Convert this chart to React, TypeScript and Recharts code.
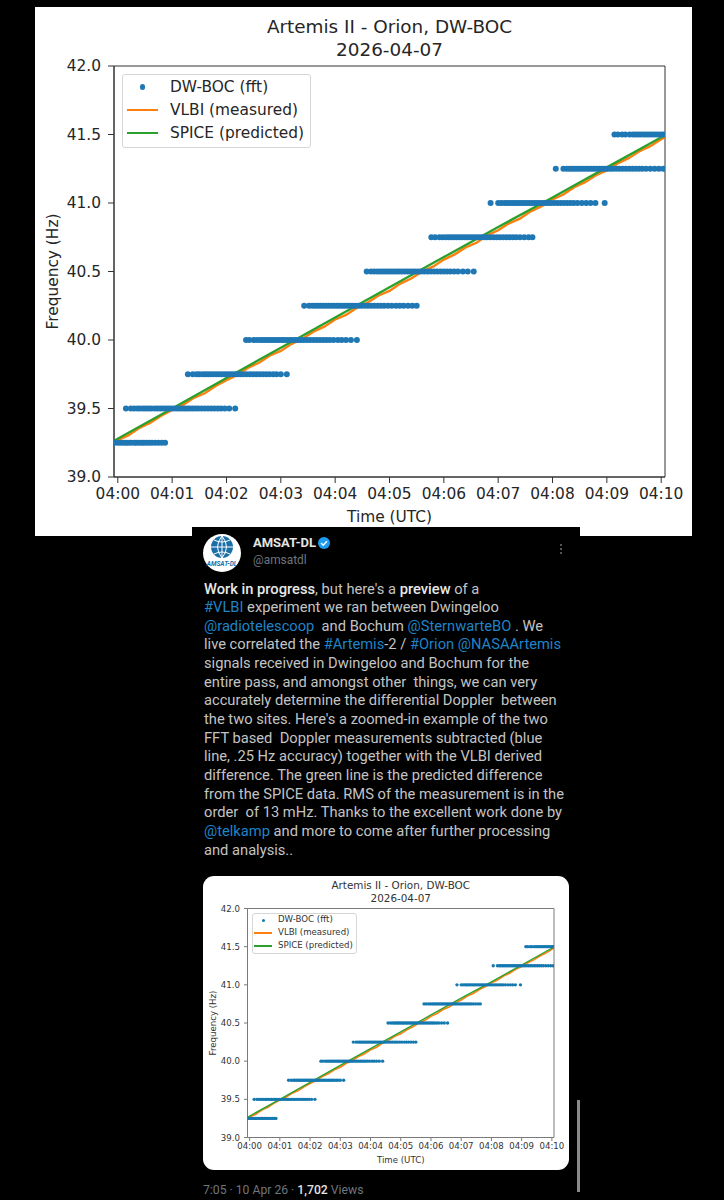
import {
  ComposedChart,
  Line,
  ReferenceArea,
  Scatter,
  XAxis,
  YAxis,
} from "recharts";

const tickLabels = ["04:00", "04:01", "04:02", "04:03", "04:04", "04:05", "04:06", "04:07", "04:08", "04:09", "04:10"];
const xTicks = [0, 1, 2, 3, 4, 5, 6, 7, 8, 9, 10];
const yTicks = [39, 39.5, 40, 40.5, 41, 41.5, 42];
const xMin = -0.07;
const xMax = 10.07;

// FFT measurements, quantised to .25 Hz: minutes after 04:00 for each level
const fftLevels = [39.25, 39.5, 39.75, 40, 40.25, 40.5, 40.75, 41, 41.25, 41.5];
const fftTimes = [
  [-0.06, 0, 0.05, 0.1, 0.15, 0.19, 0.24, 0.3, 0.34, 0.39, 0.44, 0.48, 0.53, 0.58, 0.63, 0.69, 0.75, 0.81, 0.87],
  [0.15, 0.24, 0.3, 0.36, 0.41, 0.47, 0.52, 0.57, 0.62, 0.68, 0.73, 0.78, 0.83, 0.88, 0.93, 0.98, 1.03, 1.08, 1.13, 1.18, 1.23, 1.28, 1.33, 1.38, 1.43, 1.48, 1.54, 1.6, 1.66, 1.72, 1.78, 1.84, 1.9, 1.97, 2.05, 2.16],
  [1.29, 1.38, 1.45, 1.5, 1.56, 1.61, 1.66, 1.71, 1.76, 1.81, 1.86, 1.91, 1.96, 2.01, 2.06, 2.11, 2.16, 2.21, 2.26, 2.31, 2.37, 2.43, 2.49, 2.55, 2.61, 2.67, 2.73, 2.79, 2.86, 2.92, 3.0, 3.11],
  [2.36, 2.42, 2.5, 2.56, 2.62, 2.67, 2.72, 2.77, 2.82, 2.87, 2.92, 2.97, 3.02, 3.07, 3.12, 3.17, 3.22, 3.27, 3.32, 3.37, 3.42, 3.48, 3.54, 3.6, 3.66, 3.72, 3.78, 3.84, 3.9, 3.97, 4.05, 4.12, 4.2, 4.29, 4.4],
  [3.43, 3.52, 3.58, 3.63, 3.68, 3.73, 3.78, 3.83, 3.88, 3.93, 3.98, 4.03, 4.08, 4.13, 4.18, 4.23, 4.28, 4.33, 4.38, 4.43, 4.48, 4.54, 4.6, 4.66, 4.72, 4.78, 4.84, 4.9, 4.97, 5.04, 5.12, 5.19, 5.26, 5.34, 5.42, 5.5],
  [4.58, 4.66, 4.72, 4.78, 4.83, 4.88, 4.93, 4.98, 5.03, 5.08, 5.13, 5.18, 5.23, 5.28, 5.33, 5.38, 5.43, 5.48, 5.53, 5.58, 5.64, 5.7, 5.76, 5.82, 5.88, 5.94, 6.0, 6.06, 6.12, 6.19, 6.26, 6.35, 6.44, 6.55],
  [5.77, 5.84, 5.92, 5.98, 6.04, 6.09, 6.14, 6.19, 6.24, 6.29, 6.34, 6.39, 6.44, 6.49, 6.54, 6.59, 6.64, 6.69, 6.74, 6.79, 6.85, 6.91, 6.97, 7.03, 7.09, 7.15, 7.21, 7.27, 7.33, 7.4, 7.48, 7.56, 7.63],
  [6.86, 7.0, 7.06, 7.12, 7.17, 7.22, 7.27, 7.32, 7.37, 7.42, 7.47, 7.52, 7.57, 7.62, 7.67, 7.72, 7.77, 7.82, 7.87, 7.92, 7.97, 8.03, 8.09, 8.15, 8.21, 8.27, 8.33, 8.39, 8.46, 8.54, 8.62, 8.7, 8.79, 8.96],
  [8.06, 8.2, 8.26, 8.31, 8.36, 8.41, 8.46, 8.51, 8.56, 8.61, 8.66, 8.71, 8.76, 8.81, 8.86, 8.91, 8.96, 9.01, 9.06, 9.11, 9.17, 9.23, 9.29, 9.35, 9.41, 9.47, 9.53, 9.59, 9.65, 9.72, 9.8, 9.88, 9.96, 10.04],
  [9.14, 9.2, 9.28, 9.34, 9.42, 9.48, 9.53, 9.58, 9.63, 9.68, 9.73, 9.78, 9.83, 9.88, 9.93, 9.98, 10.03, 10.07],
];

const vlbiTimes = [
  -0.07, 0, 0.2, 0.4, 0.6, 0.8, 1, 1.2, 1.4, 1.6, 1.8, 2, 2.2, 2.4, 2.6, 2.8, 3, 3.2, 3.4, 3.6, 3.8, 4, 4.2, 4.4,
  4.6, 4.8, 5, 5.2, 5.4, 5.6, 5.8, 6, 6.2, 6.4, 6.6, 6.8, 7, 7.2, 7.4, 7.6, 7.8, 8, 8.2, 8.4, 8.6, 8.8, 9, 9.2,
  9.4, 9.6, 9.8, 10, 10.07,
];
const vlbiValues = [
  39.252, 39.269, 39.305, 39.359, 39.396, 39.447, 39.49, 39.526, 39.578, 39.611, 39.665, 39.707, 39.745, 39.798,
  39.834, 39.887, 39.92, 39.972, 40.009, 40.061, 40.097, 40.15, 40.183, 40.236, 40.274, 40.325, 40.358, 40.412,
  40.449, 40.5, 40.535, 40.587, 40.625, 40.676, 40.71, 40.764, 40.801, 40.852, 40.886, 40.939, 40.977, 41.027,
  41.062, 41.115, 41.152, 41.203, 41.238, 41.289, 41.327, 41.378, 41.415, 41.465, 41.481,
];

const spiceTimes = [-0.07, 1, 2, 3, 4, 5, 6, 7, 8, 9, 10.07];
const spiceValues = [39.265, 39.5, 39.722, 39.944, 40.165, 40.385, 40.605, 40.825, 41.04, 41.26, 41.495];

const fftRows = fftLevels.flatMap((f, i) => fftTimes[i].map((t) => ({ t, f })));
const vlbiRows = vlbiTimes.map((t, i) => ({ t, f: vlbiValues[i] }));
const spiceRows = spiceTimes.map((t, i) => ({ t, f: spiceValues[i] }));

const legendEntries = ["DW-BOC (fft)", "VLBI (measured)", "SPICE (predicted)"];

const tweetLines: [string, string][][] = [
  [["Work in progress", "b"], [", but here's a ", "n"], ["preview", "b"], [" of a", "n"]],
  [["#VLBI", "l"], [" experiment we ran between Dwingeloo", "n"]],
  [["@radiotelescoop", "l"], ["  and Bochum ", "n"], ["@SternwarteBO", "l"], [" . We", "n"]],
  [["live correlated the ", "n"], ["#Artemis", "l"], ["-2 / ", "n"], ["#Orion", "l"], [" ", "n"], ["@NASAArtemis", "l"]],
  [["signals received in Dwingeloo and Bochum for the", "n"]],
  [["entire pass, and amongst other  things, we can very", "n"]],
  [["accurately determine the differential Doppler  between", "n"]],
  [["the two sites. Here's a zoomed-in example of the two", "n"]],
  [["FFT based  Doppler measurements subtracted (blue", "n"]],
  [["line, .25 Hz accuracy) together with the VLBI derived", "n"]],
  [["difference. The green line is the predicted difference", "n"]],
  [["from the SPICE data. RMS of the measurement is in the", "n"]],
  [["order  of 13 mHz. Thanks to the excellent work done by", "n"]],
  [["@telkamp", "l"], [" and more to come after further processing", "n"]],
  [["and analysis..", "n"]],
];

const FONT = "'DejaVu Sans', sans-serif";
const TWEET_FONT = "Roboto, sans-serif";
const segmentColor: Record<string, string> = { n: "#c4c4c4", b: "#e8e8e8", l: "#1f84c8" };

type PanelProps = {
  left: number;
  top: number;
  width: number;
  height: number;
  radius: number;
  plot: { left: number; top: number; right: number; bottom: number };
  fontSize: number;
  titleSize: number;
  titleY: [number, number];
  tickSize: number;
  tickMargin: number;
  textColor: string;
  spine: string;
  dotColor: string;
  dotR: number;
  lineWidth: number;
  orangeWidth: number;
  xLabelOffset: number;
  yLabelOffset: number;
  legend: {
    left: number;
    top: number;
    width: number;
    height: number;
    rows: number[];
    lineLeft: number;
    lineWidth: number;
    lineThick: number;
    textLeft: number;
    dotR: number;
  };
};

function Panel(p: PanelProps) {
  const cx = (p.plot.left + p.plot.right) / 2;
  const Dot = (d: any) => <circle cx={d.cx} cy={d.cy} r={p.dotR} fill={p.dotColor} />;
  return (
    <div
      style={{
        position: "absolute",
        left: p.left,
        top: p.top,
        width: p.width,
        height: p.height,
        background: "#ffffff",
        borderRadius: p.radius,
      }}
    >
      <ComposedChart
        width={p.width}
        height={p.height}
        margin={{
          top: p.plot.top - p.top,
          right: p.left + p.width - p.plot.right,
          bottom: 0,
          left: 0,
        }}
      >
        <XAxis
          dataKey="t"
          type="number"
          domain={[xMin, xMax]}
          allowDataOverflow
          ticks={xTicks}
          interval={0}
          tickFormatter={(v: number) => tickLabels[xTicks.indexOf(v)]}
          height={p.top + p.height - p.plot.bottom}
          tickSize={p.tickSize}
          tickMargin={p.tickMargin - 2}
          tick={{ fontSize: p.fontSize, fontFamily: FONT, fill: p.textColor }}
          stroke={p.spine}
          label={{
            value: "Time (UTC)",
            position: "insideBottom",
            offset: p.xLabelOffset,
            fontSize: p.fontSize,
            fontFamily: FONT,
            fill: p.textColor,
          }}
        />
        <YAxis
          dataKey="f"
          type="number"
          domain={[39, 42]}
          allowDataOverflow
          ticks={yTicks}
          interval={0}
          tickFormatter={(v: number) => v.toFixed(1)}
          width={p.plot.left - p.left}
          tickSize={p.tickSize}
          tickMargin={p.tickMargin}
          tick={{ fontSize: p.fontSize, fontFamily: FONT, fill: p.textColor }}
          stroke={p.spine}
          label={{
            value: "Frequency (Hz)",
            angle: -90,
            position: "insideLeft",
            offset: p.yLabelOffset,
            style: { textAnchor: "middle" },
            fontSize: p.fontSize,
            fontFamily: FONT,
            fill: p.textColor,
          }}
        />
        <Scatter data={fftRows} dataKey="f" shape={Dot} isAnimationActive={false} />
        <Line
          data={vlbiRows}
          dataKey="f"
          stroke="#ff7f0e"
          strokeWidth={p.orangeWidth}
          dot={false}
          isAnimationActive={false}
        />
        <Line
          data={spiceRows}
          dataKey="f"
          stroke="#2ca02c"
          strokeWidth={p.lineWidth}
          dot={false}
          isAnimationActive={false}
        />
        <ReferenceArea x1={xMin} x2={xMax} y1={39} y2={42} fill="none" stroke={p.spine} strokeOpacity={1} />
      </ComposedChart>

      {["Artemis II - Orion, DW-BOC", "2026-04-07"].map((line, i) => (
        <div
          key={line}
          style={{
            position: "absolute",
            left: 0,
            width: cx * 2 - p.left * 2,
            top: p.titleY[i] - p.top - p.titleSize * 0.65,
            lineHeight: `${p.titleSize * 1.3}px`,
            textAlign: "center",
            fontFamily: FONT,
            fontSize: p.titleSize,
            color: p.textColor,
          }}
        >
          {line}
        </div>
      ))}

      <div
        style={{
          position: "absolute",
          left: p.legend.left - p.left,
          top: p.legend.top - p.top,
          width: p.legend.width,
          height: p.legend.height,
          boxSizing: "border-box",
          border: "1px solid #d6d6d6",
          borderRadius: 3,
          background: "rgba(255,255,255,0.8)",
        }}
      />
      {legendEntries.map((name, i) => (
        <div key={name}>
          {i === 0 ? (
            <div
              style={{
                position: "absolute",
                left: p.legend.lineLeft + p.legend.lineWidth / 2 - p.legend.dotR - p.left,
                top: p.legend.rows[i] - p.legend.dotR - p.top,
                width: p.legend.dotR * 2,
                height: p.legend.dotR * 2,
                borderRadius: "50%",
                background: p.dotColor,
              }}
            />
          ) : (
            <div
              style={{
                position: "absolute",
                left: p.legend.lineLeft - p.left,
                top: p.legend.rows[i] - p.legend.lineThick / 2 - p.top,
                width: p.legend.lineWidth,
                height: p.legend.lineThick,
                background: i === 1 ? "#ff7f0e" : "#2ca02c",
              }}
            />
          )}
          <div
            style={{
              position: "absolute",
              left: p.legend.textLeft - p.left,
              top: p.legend.rows[i] - p.fontSize * 0.65 - p.top,
              lineHeight: `${p.fontSize * 1.3}px`,
              whiteSpace: "nowrap",
              fontFamily: FONT,
              fontSize: p.fontSize,
              color: p.textColor,
            }}
          >
            {name}
          </div>
        </div>
      ))}
    </div>
  );
}

function Tweet() {
  return (
    <div style={{ position: "absolute", left: 192, top: 527, width: 388, height: 673, background: "#000000" }}>
      <svg width={388} height={60} style={{ position: "absolute", left: 0, top: 0 }}>
        <circle cx={30} cy={26} r={19} fill="#ffffff" />
        <circle cx={30} cy={20} r={11} fill="#1a6fa8" />
        <path d="M19 20h22M30 9v22M22 13q8 4 16 0M22 27q8 -4 16 0M30 9q-9 11 0 22M30 9q9 11 0 22" stroke="#ffffff" strokeWidth={1} fill="none" />
        <text x={30} y={39} textAnchor="middle" fontSize={6.5} fontWeight={700} fontStyle="italic" fill="#1a6fa8" fontFamily={TWEET_FONT}>
          AMSAT-DL
        </text>
        <circle cx={132} cy={16} r={6} fill="#1d9bf0" />
        <path d="M129 16l2.2 2.2 3.8-4" stroke="#ffffff" strokeWidth={1.4} fill="none" />
        <circle cx={369} cy={18} r={1} fill="#6f6f6f" />
        <circle cx={369} cy={22} r={1} fill="#6f6f6f" />
        <circle cx={369} cy={26} r={1} fill="#6f6f6f" />
      </svg>
      <div style={{ position: "absolute", left: 61, top: 8, fontFamily: TWEET_FONT, fontSize: 13, fontWeight: 700, color: "#e4e4e4", lineHeight: "16px" }}>
        AMSAT-DL
      </div>
      <div style={{ position: "absolute", left: 61, top: 25, fontFamily: TWEET_FONT, fontSize: 11.9, color: "#6e767d", lineHeight: "16px" }}>
        @amsatdl
      </div>
      {tweetLines.map((segments, i) => (
        <div
          key={i}
          style={{
            position: "absolute",
            left: 12,
            top: 51.5 + i * 18.65,
            lineHeight: "20px",
            whiteSpace: "pre",
            fontFamily: TWEET_FONT,
            fontSize: 14.7,
          }}
        >
          {segments.map(([text, kind], j) => (
            <span key={j} style={{ color: segmentColor[kind], fontWeight: kind === "b" ? 500 : 400 }}>
              {text}
            </span>
          ))}
        </div>
      ))}
      <div style={{ position: "absolute", left: 11, top: 654, lineHeight: "18px", whiteSpace: "pre", fontFamily: TWEET_FONT, fontSize: 12.2, color: "#6e767d" }}>
        7:05 · 10 Apr 26 · <span style={{ color: "#e4e4e4", fontWeight: 500 }}>1,702</span> Views
      </div>
      <div style={{ position: "absolute", left: 385, top: 573, width: 3, height: 92, background: "#8a8a8a" }} />
    </div>
  );
}

export default function App() {
  return (
    <div style={{ position: "absolute", left: 0, top: 0, width: 724, height: 1200, overflow: "hidden", background: "#000000" }}>
      <Panel
        left={35}
        top={7}
        width={657}
        height={529}
        radius={0}
        plot={{ left: 114, top: 66, right: 665, bottom: 477 }}
        fontSize={15.4}
        titleSize={18.4}
        titleY={[27, 50]}
        tickSize={6}
        tickMargin={7}
        textColor="#262626"
        spine="#333333"
        dotColor="#1f77b4"
        dotR={3}
        lineWidth={2.3}
        orangeWidth={2.4}
        xLabelOffset={14}
        yLabelOffset={18}
        legend={{
          left: 122,
          top: 74,
          width: 189,
          height: 74,
          rows: [87, 110, 133],
          lineLeft: 127,
          lineWidth: 31,
          lineThick: 2,
          textLeft: 170,
          dotR: 2.7,
        }}
      />
      <Tweet />
      <Panel
        left={203}
        top={876}
        width={366}
        height={294}
        radius={11}
        plot={{ left: 247.5, top: 908.5, right: 554, bottom: 1137.5 }}
        fontSize={8.6}
        titleSize={10.4}
        titleY={[886, 899]}
        tickSize={3.5}
        tickMargin={4}
        textColor="#333333"
        spine="#7a7a7a"
        dotColor="#1579b0"
        dotR={1.7}
        lineWidth={1.4}
        orangeWidth={1.6}
        xLabelOffset={7}
        yLabelOffset={10}
        legend={{
          left: 252,
          top: 913,
          width: 105,
          height: 41,
          rows: [920, 933, 946],
          lineLeft: 254,
          lineWidth: 18,
          lineThick: 2,
          textLeft: 278,
          dotR: 1.5,
        }}
      />
    </div>
  );
}
